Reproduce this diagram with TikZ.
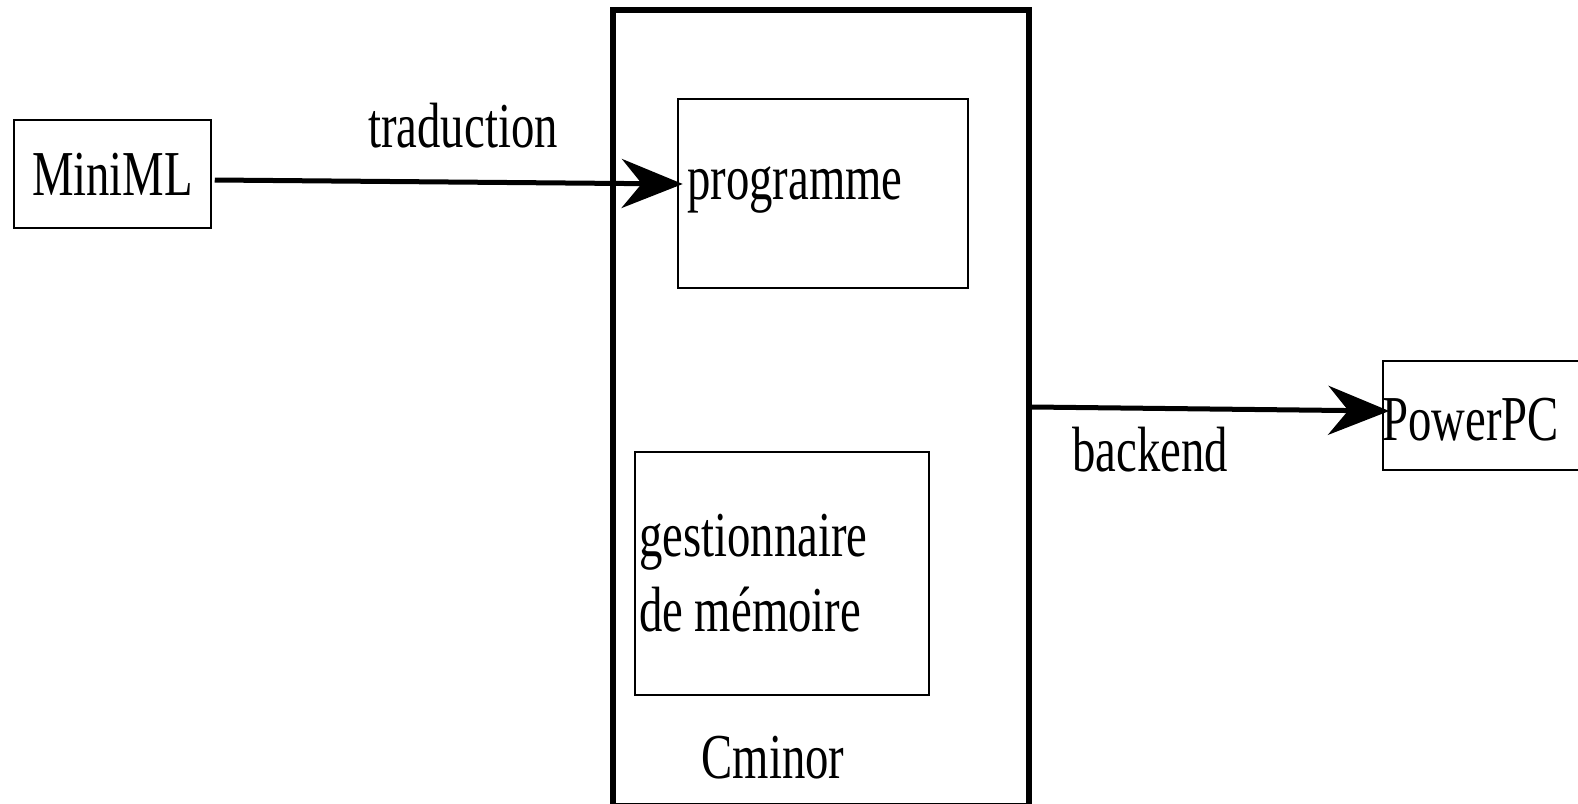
\documentclass[tikz,border=0pt]{standalone}
\usepackage{fontspec}
\setmainfont{Liberation Serif}[FakeStretch=0.73]
\usetikzlibrary{arrows.meta,calc}
\begin{document}
\begin{tikzpicture}[x=1pt,y=-1pt,
  box/.style={draw=black,rectangle,inner sep=0pt},
  lbl/.style={inner sep=0pt,font=\fontsize{64}{74.5}\selectfont},
  arr/.style={line width=5pt,-{Stealth[length=61pt,width=49pt,inset=20pt]}}]
\useasboundingbox (0,0) rectangle (1578,803);
% boxes
\node[box,line width=5.5pt,minimum width=416pt,minimum height=796pt] (cminor) at (821,408) {};
\node[box,line width=1.5pt,minimum width=197pt,minimum height=108pt] (mini) at (112.5,174) {};
\node[box,line width=2.5pt,minimum width=290pt,minimum height=189pt] (prog) at (823,193.5) {};
\node[box,line width=2.5pt,minimum width=294pt,minimum height=243pt] (gest) at (782,573.5) {};
\node[box,line width=1.5pt,minimum width=320pt,minimum height=109pt] (ppc) at (1543,415.5) {};
% texts
\node[lbl] (miniT) at (mini.center) {MiniML};
\node[lbl,anchor=base west] (progT) at (687,199) {programme};
\node[lbl,anchor=north west,align=left] (gestT) at (639,514) {gestionnaire\\de mémoire};
\node[lbl,anchor=base] (cminorT) at (773,778) {Cminor};
\node[lbl,anchor=base west] (ppcT) at (1382,440) {PowerPC};
\node[lbl,anchor=base] (trad) at (463,147) {traduction};
\node[lbl,anchor=base] (back) at (1150,471) {backend};
% arrows
\draw[arr] ($(mini.east)+(3,6)$) -- ($(prog.west)+(6,-9.5)$);
\draw[arr] ($(cminor.east)+(0,-1)$) -- ($(ppc.west)+(7,-4.5)$);
\end{tikzpicture}
\end{document}
